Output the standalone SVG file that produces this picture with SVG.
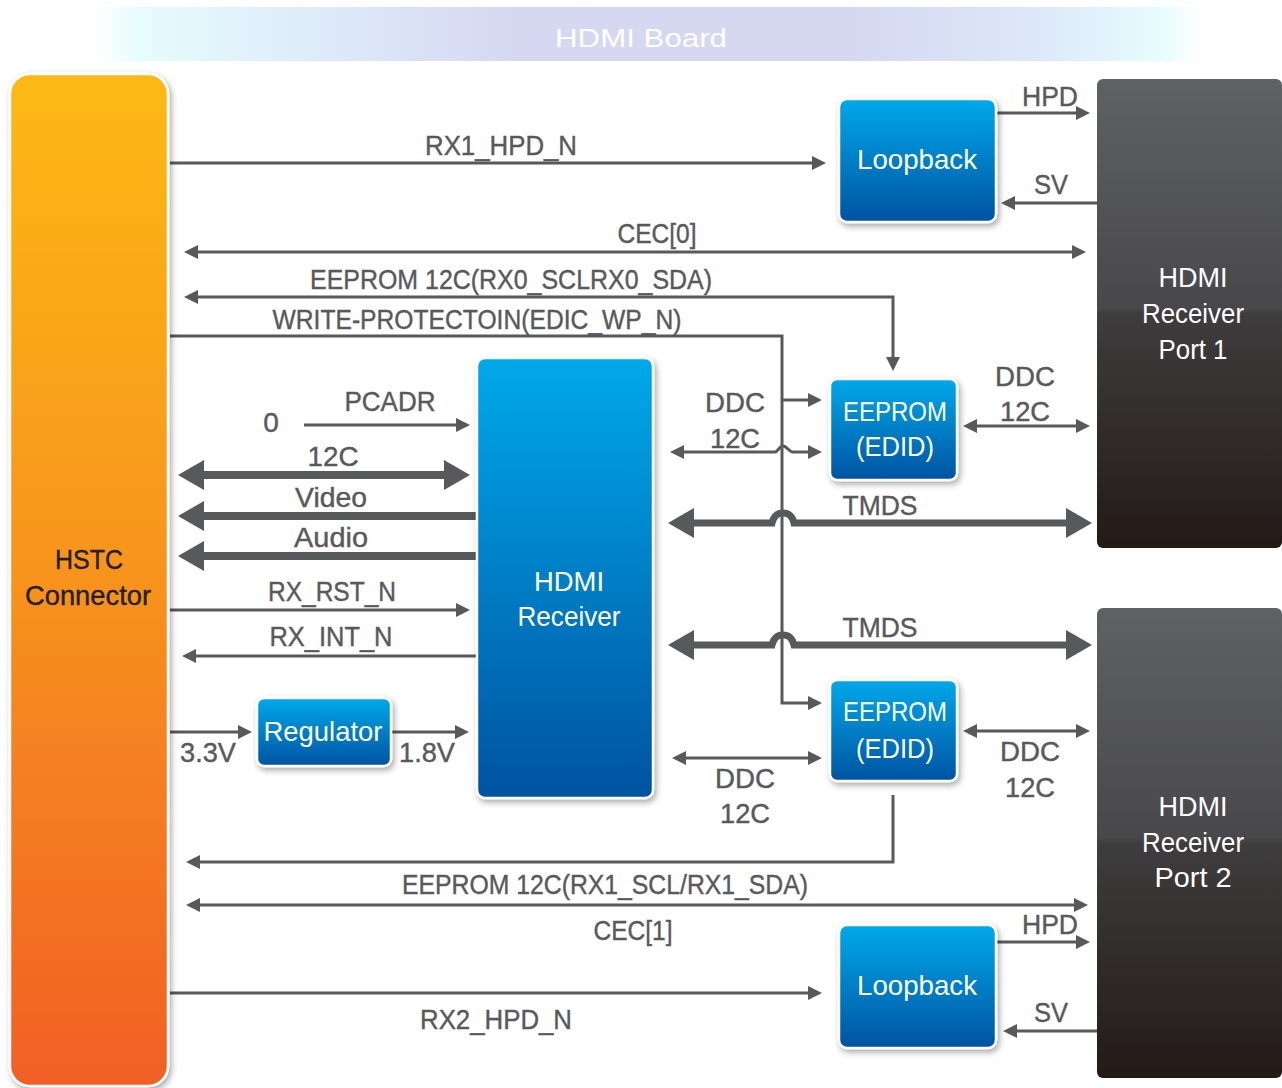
<svg xmlns="http://www.w3.org/2000/svg" width="1282" height="1088" viewBox="0 0 1282 1088">
<defs>
<style>
.ln{stroke:#58595b;stroke-width:3;fill:none}
.tk{stroke:#58595b;stroke-width:8;fill:none}
.tm{stroke:#58595b;stroke-width:7;fill:none}
text{font-family:"Liberation Sans",Arial,sans-serif;font-size:28px;text-anchor:middle}
.lbl{fill:#58595b;stroke:#58595b;stroke-width:0.4}
.wt{fill:#ffffff}
.bk{fill:#231f20;stroke:#231f20;stroke-width:0.4}
.blue{fill:url(#gBlue);stroke:#ffffff;stroke-width:2.5;filter:url(#sh)}
.port{fill:url(#gPort)}
</style>
<linearGradient id="gTitle" x1="0" y1="0" x2="1" y2="0">
<stop offset="0" stop-color="#ffffff"/>
<stop offset="0.04" stop-color="#e6fcfd"/>
<stop offset="0.25" stop-color="#dce6f8"/>
<stop offset="0.38" stop-color="#d5d8f0"/>
<stop offset="0.68" stop-color="#d5d8f0"/>
<stop offset="0.85" stop-color="#dde8f9"/>
<stop offset="0.96" stop-color="#e6fcfd"/>
<stop offset="1" stop-color="#ffffff"/>
</linearGradient>
<linearGradient id="gOrange" x1="0" y1="0" x2="0" y2="1">
<stop offset="0" stop-color="#fdb913"/>
<stop offset="0.5" stop-color="#f7931e"/>
<stop offset="1" stop-color="#f15f25"/>
</linearGradient>
<linearGradient id="gBlue" x1="0" y1="0" x2="0" y2="1">
<stop offset="0" stop-color="#00a9ea"/>
<stop offset="1" stop-color="#0053a1"/>
</linearGradient>
<linearGradient id="gPort" x1="0" y1="0" x2="0" y2="1">
<stop offset="0" stop-color="#606163"/>
<stop offset="0.49" stop-color="#48484a"/>
<stop offset="0.5" stop-color="#3e3d3d"/>
<stop offset="1" stop-color="#231a17"/>
</linearGradient>
<filter id="sh" x="-20%" y="-20%" width="140%" height="140%">
<feDropShadow dx="2" dy="3" stdDeviation="3" flood-color="#000" flood-opacity="0.35"/>
</filter>
<marker id="a" viewBox="0 0 14 14" markerWidth="14" markerHeight="14" refX="2" refY="7" orient="auto-start-reverse" markerUnits="userSpaceOnUse">
<path d="M0,0 L14,7 L0,14 z" fill="#58595b"/>
</marker>
<marker id="A" viewBox="0 0 26 30" markerWidth="26" markerHeight="30" refX="2" refY="15" orient="auto-start-reverse" markerUnits="userSpaceOnUse">
<path d="M0,0 L26,15 L0,30 z" fill="#58595b"/>
</marker>
</defs>
<rect width="1282" height="1088" fill="#ffffff"/>

<g id="title">
<rect x="95" y="7" width="1107" height="54" fill="url(#gTitle)"/>
<text x="641" y="47" class="wt" style="font-size:26px" textLength="172" lengthAdjust="spacingAndGlyphs">HDMI Board</text>
</g>

<g id="connectors">
<path class="ln" d="M170,163 H814" marker-end="url(#a)"/>
<path class="ln" d="M996,113 H1078" marker-end="url(#a)"/>
<path class="ln" d="M1097,203 H1013" marker-end="url(#a)"/>
<path class="ln" d="M196,252 H1074" marker-start="url(#a)" marker-end="url(#a)"/>
<path class="ln" d="M893,359 V297 H196" marker-start="url(#a)" marker-end="url(#a)"/>
<path class="ln" d="M170,336 H782 V703 H810" marker-end="url(#a)"/>
<path class="ln" d="M782,400 H810" marker-end="url(#a)"/>
<path class="ln" d="M304,425 H458" marker-end="url(#a)"/>
<path class="tk" d="M202,475 H446" marker-start="url(#A)" marker-end="url(#A)"/>
<path class="tk" d="M476,516 H202" marker-end="url(#A)"/>
<path class="tk" d="M476,556 H202" marker-end="url(#A)"/>
<path class="ln" d="M170,610 H458" marker-end="url(#a)"/>
<path class="ln" d="M476,656 H194" marker-end="url(#a)"/>
<path class="ln" d="M170,732 H240" marker-end="url(#a)"/>
<path class="ln" d="M391,732 H457" marker-end="url(#a)"/>
<path class="ln" d="M682,452 H775 C778,452 779,446 783,446 C787,446 789,452 793,452 H810" marker-start="url(#a)" marker-end="url(#a)"/>
<path class="ln" d="M975,426 H1078" marker-start="url(#a)" marker-end="url(#a)"/>
<path class="tm" d="M692,523 H772 C774,515 778,513 783,513 C788,513 792,515 794,523 H1068" marker-start="url(#A)" marker-end="url(#A)"/>
<path class="tm" d="M692,645 H772 C774,637 778,635 783,635 C788,635 792,637 794,645 H1068" marker-start="url(#A)" marker-end="url(#A)"/>
<path class="ln" d="M684,758 H810" marker-start="url(#a)" marker-end="url(#a)"/>
<path class="ln" d="M975,731 H1078" marker-start="url(#a)" marker-end="url(#a)"/>
<path class="ln" d="M893,795 V862 H198" marker-end="url(#a)"/>
<path class="ln" d="M198,905 H1076" marker-start="url(#a)" marker-end="url(#a)"/>
<path class="ln" d="M996,942 H1078" marker-end="url(#a)"/>
<path class="ln" d="M170,993 H810" marker-end="url(#a)"/>
<path class="ln" d="M1097,1031 H1015" marker-end="url(#a)"/>
</g>

<g id="labels">
<text class="lbl" x="501" y="155" textLength="152" lengthAdjust="spacingAndGlyphs">RX1_HPD_N</text>
<text class="lbl" x="1050" y="106" textLength="56" lengthAdjust="spacingAndGlyphs">HPD</text>
<text class="lbl" x="1051" y="194" textLength="34" lengthAdjust="spacingAndGlyphs">SV</text>
<text class="lbl" x="657" y="243" textLength="79" lengthAdjust="spacingAndGlyphs">CEC[0]</text>
<text class="lbl" x="511" y="289" textLength="402" lengthAdjust="spacingAndGlyphs">EEPROM 12C(RX0_SCLRX0_SDA)</text>
<text class="lbl" x="477" y="329" textLength="409" lengthAdjust="spacingAndGlyphs">WRITE-PROTECTOIN(EDIC_WP_N)</text>
<text class="lbl" x="390" y="411" textLength="91" lengthAdjust="spacingAndGlyphs">PCADR</text>
<text class="lbl" x="271" y="432">0</text>
<text class="lbl" x="333" y="466" textLength="51" lengthAdjust="spacingAndGlyphs">12C</text>
<text class="lbl" x="331" y="507" textLength="72" lengthAdjust="spacingAndGlyphs">Video</text>
<text class="lbl" x="331" y="547" textLength="74" lengthAdjust="spacingAndGlyphs">Audio</text>
<text class="lbl" x="332" y="601" textLength="128" lengthAdjust="spacingAndGlyphs">RX_RST_N</text>
<text class="lbl" x="331" y="646" textLength="123" lengthAdjust="spacingAndGlyphs">RX_INT_N</text>
<text class="lbl" x="208" y="762" textLength="56" lengthAdjust="spacingAndGlyphs">3.3V</text>
<text class="lbl" x="427" y="762" textLength="56" lengthAdjust="spacingAndGlyphs">1.8V</text>
<text class="lbl" x="735" y="412" textLength="60" lengthAdjust="spacingAndGlyphs">DDC</text>
<text class="lbl" x="735" y="448" textLength="50" lengthAdjust="spacingAndGlyphs">12C</text>
<text class="lbl" x="1025" y="386" textLength="60" lengthAdjust="spacingAndGlyphs">DDC</text>
<text class="lbl" x="1025" y="421" textLength="50" lengthAdjust="spacingAndGlyphs">12C</text>
<text class="lbl" x="880" y="515" textLength="75" lengthAdjust="spacingAndGlyphs">TMDS</text>
<text class="lbl" x="880" y="637" textLength="75" lengthAdjust="spacingAndGlyphs">TMDS</text>
<text class="lbl" x="745" y="788" textLength="60" lengthAdjust="spacingAndGlyphs">DDC</text>
<text class="lbl" x="745" y="823" textLength="50" lengthAdjust="spacingAndGlyphs">12C</text>
<text class="lbl" x="1030" y="761" textLength="60" lengthAdjust="spacingAndGlyphs">DDC</text>
<text class="lbl" x="1030" y="797" textLength="50" lengthAdjust="spacingAndGlyphs">12C</text>
<text class="lbl" x="605" y="894" textLength="406" lengthAdjust="spacingAndGlyphs">EEPROM 12C(RX1_SCL/RX1_SDA)</text>
<text class="lbl" x="633" y="940" textLength="79" lengthAdjust="spacingAndGlyphs">CEC[1]</text>
<text class="lbl" x="1050" y="934" textLength="56" lengthAdjust="spacingAndGlyphs">HPD</text>
<text class="lbl" x="496" y="1029" textLength="152" lengthAdjust="spacingAndGlyphs">RX2_HPD_N</text>
<text class="lbl" x="1051" y="1022" textLength="34" lengthAdjust="spacingAndGlyphs">SV</text>
</g>

<g id="hstc">
<rect x="10" y="74" width="158" height="1012" rx="20" fill="url(#gOrange)" stroke="#ffffff" stroke-width="2.5" filter="url(#sh)"/>
<text class="bk" x="89" y="569" textLength="68" lengthAdjust="spacingAndGlyphs">HSTC</text>
<text class="bk" x="88" y="605" textLength="126" lengthAdjust="spacingAndGlyphs">Connector</text>
</g>

<g id="port1">
<rect class="port" x="1097" y="79" width="185" height="469" rx="6"/>
<text class="wt" x="1193" y="287" textLength="69" lengthAdjust="spacingAndGlyphs">HDMI</text>
<text class="wt" x="1193" y="323" textLength="102" lengthAdjust="spacingAndGlyphs">Receiver</text>
<text class="wt" x="1193" y="359" textLength="69" lengthAdjust="spacingAndGlyphs">Port 1</text>
</g>

<g id="port2">
<rect class="port" x="1097" y="608" width="185" height="470" rx="6"/>
<text class="wt" x="1193" y="816" textLength="69" lengthAdjust="spacingAndGlyphs">HDMI</text>
<text class="wt" x="1193" y="852" textLength="102" lengthAdjust="spacingAndGlyphs">Receiver</text>
<text class="wt" x="1193" y="887" textLength="77" lengthAdjust="spacingAndGlyphs">Port  2</text>
</g>

<g id="loopback1">
<rect class="blue" x="839" y="99" width="157" height="123" rx="8"/>
<text class="wt" x="917" y="169" textLength="120" lengthAdjust="spacingAndGlyphs">Loopback</text>
</g>

<g id="loopback2">
<rect class="blue" x="839" y="925" width="157" height="123" rx="8"/>
<text class="wt" x="917" y="995" textLength="120" lengthAdjust="spacingAndGlyphs">Loopback</text>
</g>

<g id="hdmi-receiver">
<rect class="blue" x="477" y="358" width="176" height="440" rx="8"/>
<text class="wt" x="569" y="591" textLength="70" lengthAdjust="spacingAndGlyphs">HDMI</text>
<text class="wt" x="569" y="626" textLength="103" lengthAdjust="spacingAndGlyphs">Receiver</text>
</g>

<g id="eeprom1">
<rect class="blue" x="830" y="379" width="127" height="101" rx="7"/>
<text class="wt" x="895" y="421" textLength="104" lengthAdjust="spacingAndGlyphs">EEPROM</text>
<text class="wt" x="895" y="456" textLength="78" lengthAdjust="spacingAndGlyphs">(EDID)</text>
</g>

<g id="eeprom2">
<rect class="blue" x="830" y="680" width="127" height="101" rx="7"/>
<text class="wt" x="895" y="721" textLength="104" lengthAdjust="spacingAndGlyphs">EEPROM</text>
<text class="wt" x="895" y="758" textLength="78" lengthAdjust="spacingAndGlyphs">(EDID)</text>
</g>

<g id="regulator">
<rect class="blue" x="257" y="698" width="134" height="68" rx="7"/>
<text class="wt" x="323" y="741" textLength="119" lengthAdjust="spacingAndGlyphs">Regulator</text>
</g>
</svg>
